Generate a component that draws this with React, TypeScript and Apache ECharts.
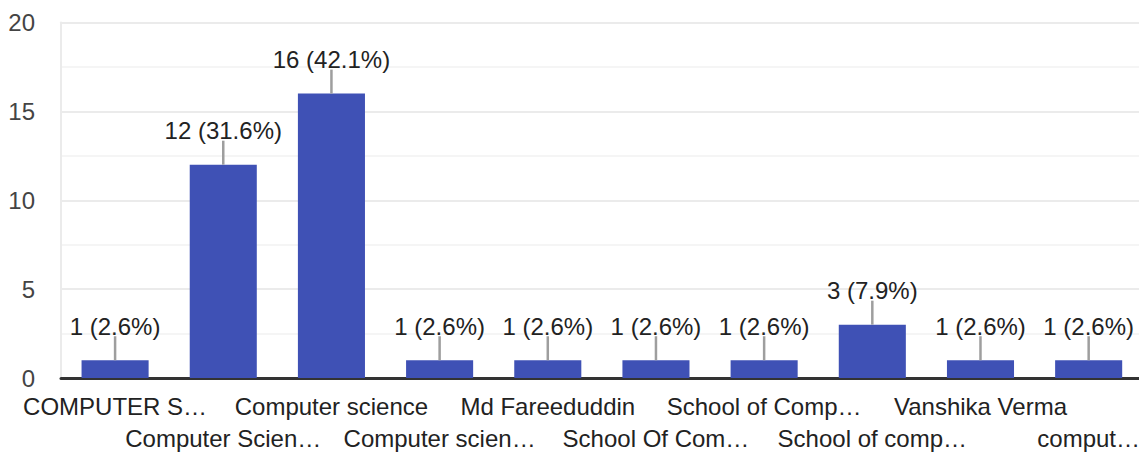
import React, { useEffect, useRef } from "react";
import * as echarts from "echarts";

const categories = [
  "COMPUTER S…",
  "Computer Scien…",
  "Computer science",
  "Computer scien…",
  "Md Fareeduddin",
  "School Of Com…",
  "School of Comp…",
  "School of comp…",
  "Vanshika Verma",
  "comput…",
];
const counts = [1, 12, 16, 1, 1, 1, 1, 3, 1, 1];
const yTicks = { min: 0, max: 20, interval: 5 };

const FONT = "'Liberation Sans', Arial, sans-serif";

export default function App() {
  const ref = useRef<HTMLDivElement>(null);
  useEffect(() => {
    if (!ref.current) return;
    const chart = echarts.init(ref.current, undefined, { renderer: "svg" });
    const total = counts.reduce((a, b) => a + b, 0);
    chart.setOption({
      animation: false,
      grid: { left: 61, right: 0, top: 22.5, bottom: 74, containLabel: false },
      xAxis: {
        type: "category",
        data: categories,
        axisTick: { show: false },
        axisLine: { lineStyle: { color: "#333", width: 3 } },
        axisLabel: {
          interval: 0,
          hideOverlap: false,
          margin: 12,
          fontSize: 24,
          lineHeight: 32,
          fontFamily: FONT,
          color: "#222",
          formatter: (v: string, i: number) => (i % 2 === 1 ? "\n" + v : v),
        },
      },
      yAxis: {
        type: "value",
        min: yTicks.min,
        max: yTicks.max,
        interval: yTicks.interval,
        axisLine: { show: true, lineStyle: { color: "#ebebeb", width: 2 } },
        axisTick: { show: false },
        axisLabel: { fontSize: 24, fontFamily: FONT, color: "#444", margin: 26 },
        splitLine: { lineStyle: { color: "#ebebeb", width: 2 } },
        minorTick: { show: false, splitNumber: 2 },
        minorSplitLine: { show: true, lineStyle: { color: "#f5f5f5", width: 2 } },
      },
      series: [
        {
          type: "bar",
          data: counts,
          barWidth: "62%",
          itemStyle: { color: "#3f51b5" },
          label: {
            show: true,
            position: "top",
            distance: 22,
            fontSize: 24,
            fontFamily: FONT,
            color: "#222",
            formatter: (p: any) =>
              `${p.value} (${((p.value / total) * 100).toFixed(1)}%)`,
          },
        },
        {
          type: "custom",
          data: counts.map((v, i) => [i, v]),
          z: 5,
          renderItem: (params: any, api: any) => {
            const p = api.coord([api.value(0), api.value(1)]);
            return {
              type: "line",
              shape: { x1: p[0], y1: p[1], x2: p[0], y2: p[1] - 24 },
              style: { stroke: "#9e9e9e", lineWidth: 2.5 },
            };
          },
        },
      ],
    });
    return () => chart.dispose();
  }, []);
  return (
    <div
      style={{
        position: "fixed",
        left: 0,
        top: 0,
        width: 1139,
        height: 454,
        overflow: "hidden",
        background: "#fff",
      }}
    >
      <div ref={ref} style={{ width: 1143, height: 454 }} />
    </div>
  );
}
